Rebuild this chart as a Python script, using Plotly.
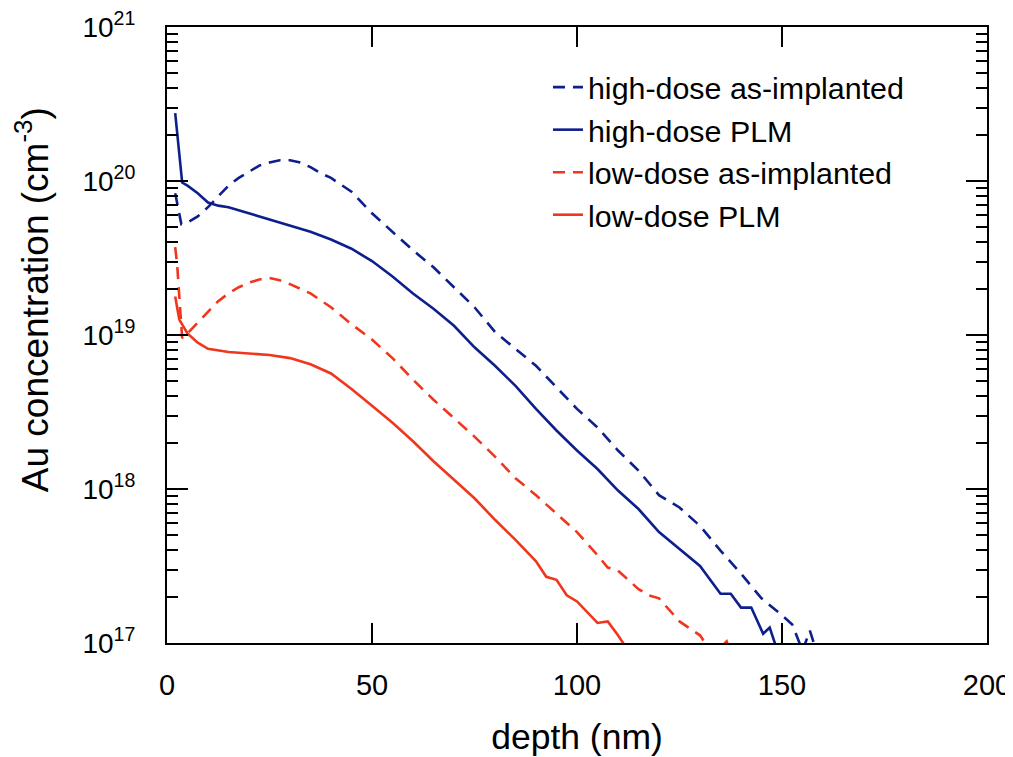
import plotly.graph_objects as go

# ---- data (log10 of Au concentration, cm^-3) ----
hd_impl_depth = [2, 2.6, 3.5, 5, 7.5, 10, 12.5, 15, 17.5, 20, 22.5, 25, 27.5, 30, 32.5, 35, 37.5, 40,
                 45, 50, 55, 60, 65, 70, 75, 80, 85, 90, 95, 100, 105, 110, 115, 120, 122.5, 125,
                 130, 135, 140, 145, 150, 152.5, 155, 156.8, 158, 160]
hd_impl_log = [19.92, 19.83, 19.72, 19.73, 19.77, 19.83, 19.90, 19.97, 20.02, 20.06, 20.10, 20.12, 20.135, 20.135,
               20.12, 20.09, 20.05, 20.02, 19.93, 19.79, 19.67, 19.55, 19.44, 19.31, 19.18, 19.02,
               18.91, 18.80, 18.66, 18.52, 18.40, 18.25, 18.12, 17.96, 17.92, 17.88, 17.76, 17.60,
               17.45, 17.29, 17.18, 17.12, 16.95, 17.08, 16.98, 16.8]

hd_plm_depth = [2, 3.7, 5, 7.5, 10, 12.5, 15, 20, 25, 30, 35, 40, 45, 50, 55, 60, 65, 70, 75, 80, 85,
                90, 95, 100, 105, 110, 115, 120, 125, 130, 135, 137.5, 140, 142.5, 145.4, 147, 148.5, 150]
hd_plm_log = [20.44, 19.99, 19.97, 19.92, 19.86, 19.84, 19.83, 19.79, 19.755, 19.71, 19.67, 19.62, 19.56,
              19.48, 19.38, 19.27, 19.17, 19.06, 18.92, 18.80, 18.67, 18.52, 18.38, 18.25, 18.13, 17.99,
              17.87, 17.72, 17.61, 17.50, 17.32, 17.32, 17.23, 17.23, 17.06, 17.10, 16.98, 16.9]

ld_impl_depth = [2, 2.5, 3, 3.7, 5, 7.5, 10, 12.5, 15, 17.5, 20, 22.5, 25, 27.5, 30, 32.5, 35, 40, 45,
                 50, 55, 60, 65, 70, 75, 80, 85, 90, 95, 100, 105, 107.5, 110, 115, 117.5, 120, 125,
                 130, 132.5, 135, 136.5, 138]
ld_impl_log = [19.57, 19.45, 19.25, 18.98, 19.01, 19.08, 19.15, 19.22, 19.27, 19.31, 19.34, 19.36, 19.37,
               19.355, 19.33, 19.30, 19.27, 19.18, 19.07, 18.97, 18.85, 18.71, 18.58, 18.46, 18.34,
               18.21, 18.07, 17.96, 17.84, 17.72, 17.57, 17.49, 17.47, 17.35, 17.31, 17.29, 17.14,
               17.05, 16.95, 16.97, 17.01, 16.9]

ld_plm_depth = [2, 3, 5, 7.5, 10, 15, 20, 25, 30, 35, 40, 45, 50, 55, 60, 65, 70, 75, 80, 85, 90,
                92.5, 95, 97.5, 100, 102.5, 105, 107.5, 110, 112.5]
ld_plm_log = [19.25, 19.10, 19.01, 18.95, 18.91, 18.89, 18.88, 18.87, 18.85, 18.81, 18.75, 18.65, 18.54,
              18.43, 18.31, 18.18, 18.06, 17.94, 17.80, 17.67, 17.53, 17.43, 17.41, 17.31, 17.27,
              17.20, 17.13, 17.14, 17.05, 16.95]

series_names = ["high-dose as-implanted", "high-dose PLM", "low-dose as-implanted", "low-dose PLM"]

y_tickvals = [1e17, 1e18, 1e19, 1e20, 1e21]
y_ticktext = ["10<sup>17</sup>", "10<sup>18</sup>", "10<sup>19</sup>", "10<sup>20</sup>", "10<sup>21</sup>"]
x_tickvals = [0, 50, 100, 150, 200]

BLUE = "#0d1f8c"
RED = "#f0361c"
DASH = "12px,8px"
FONT = "Arial, Liberation Sans, sans-serif"


def to_conc(logs):
    return [10 ** v for v in logs]


fig = go.Figure()
specs = [
    (hd_impl_depth, hd_impl_log, BLUE, DASH),
    (hd_plm_depth, hd_plm_log, BLUE, "solid"),
    (ld_impl_depth, ld_impl_log, RED, DASH),
    (ld_plm_depth, ld_plm_log, RED, "solid"),
]
for i, (d, lg, col, dash) in enumerate(specs):
    fig.add_trace(go.Scatter(
        x=d, y=to_conc(lg), mode="lines", name=series_names[i],
        line=dict(color=col, width=2.6, dash=dash),
    ))

fig.update_layout(
    width=1005, height=749,
    margin=dict(l=159, r=26, t=19, b=114),
    paper_bgcolor="white", plot_bgcolor="white",
    font=dict(family=FONT, color="black", size=29),
    showlegend=True,
    legend=dict(
        x=0.4646, y=0.945, xanchor="left", yanchor="top",
        bgcolor="rgba(0,0,0,0)", borderwidth=0,
        font=dict(size=30.4, family=FONT), tracegroupgap=0,
    ),
    annotations=[dict(
        text="Au concentration (cm<sup>-3</sup>)", textangle=-90,
        xref="paper", yref="paper", x=-0.163, y=0.557,
        xanchor="center", yanchor="middle", showarrow=False,
        font=dict(size=37, family=FONT, color="black"),
    )],
)

fig.update_xaxes(
    range=[0, 200], tickvals=x_tickvals, ticktext=[str(v) for v in x_tickvals],
    ticks="inside", ticklen=20, tickwidth=1.5, tickcolor="black",
    showline=True, linecolor="black", linewidth=2, mirror="ticks",
    showgrid=False, zeroline=False, ticklabelstandoff=15, ticklabeloverflow="allow",
    automargin=False,
    tickfont=dict(size=29, family=FONT),
    title=dict(text="depth (nm)", font=dict(size=35.5, family=FONT), standoff=26),
)
fig.update_yaxes(
    type="log", range=[17, 21], tickvals=y_tickvals, ticktext=y_ticktext,
    ticks="inside", ticklen=21, tickwidth=1.5, tickcolor="black",
    minor=dict(ticks="inside", ticklen=11, tickwidth=1.5, tickcolor="black", dtick="D1", showgrid=False),
    showline=True, linecolor="black", linewidth=2, mirror="ticks",
    showgrid=False, zeroline=False, ticklabelstandoff=24, ticklabeloverflow="allow",
    automargin=False,
    tickfont=dict(size=28, family=FONT),
)

fig.write_html("out.html")
